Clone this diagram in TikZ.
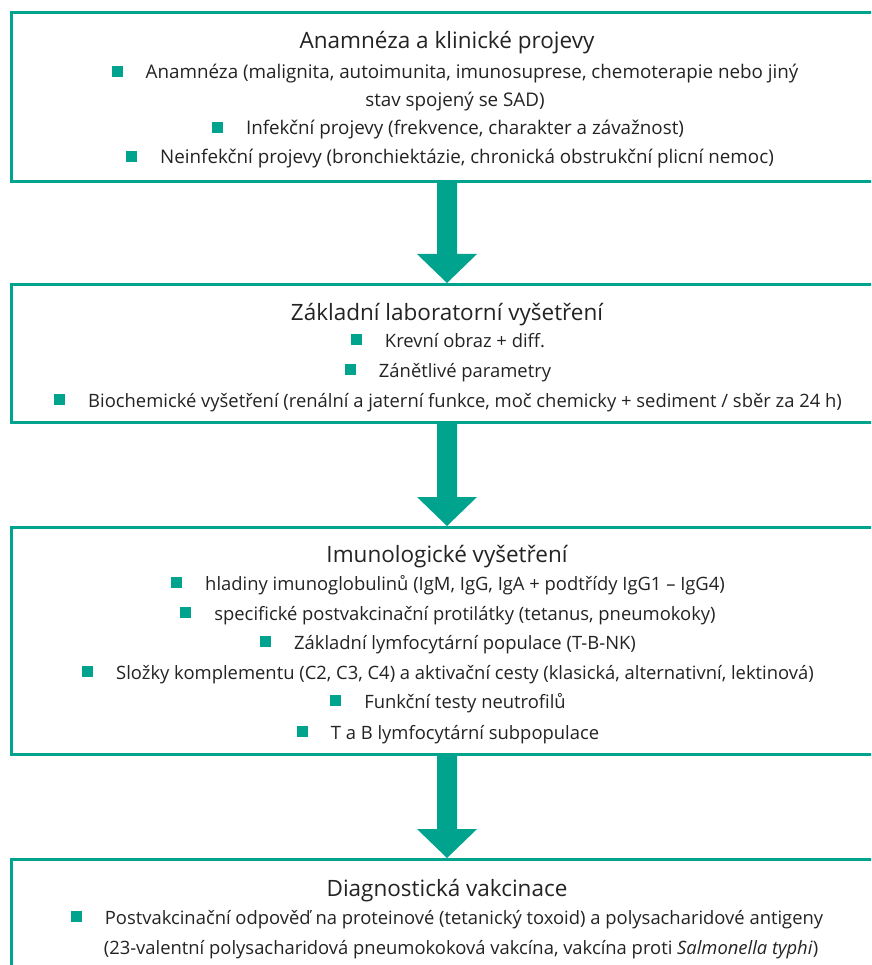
\documentclass[tikz,border=0pt]{standalone}
\usepackage{fontspec}
\setmainfont{Open Sans}
\usetikzlibrary{calc}
\definecolor{tealc}{RGB}{0,163,142}
\definecolor{txt}{RGB}{35,35,35}
\newcommand\bul{\textcolor{tealc}{\rule[2pt]{11pt}{11pt}}\hspace{23pt}}
\tikzset{
  box/.style={draw=tealc, line width=2.6pt, rectangle, anchor=north west, minimum width=890pt, inner sep=0pt},
  ttl/.style={anchor=base, inner sep=0pt, font=\fontsize{22.5pt}{26pt}\selectfont, text=txt},
  itm/.style={anchor=base, inner sep=0pt, font=\fontsize{18.4pt}{22pt}\selectfont, text=txt},
  itmA/.style={itm, font=\fontsize{18.8pt}{22pt}\selectfont},
  bigarrow/.style={fill=tealc},
}
\newcommand\flowarrow[2]{%
  \fill[bigarrow] let \p1=(#1.south -| ax), \p2=(#2.north -| ax) in
    (\x1-10pt,\y1) -- (\x1+10pt,\y1) -- (\x1+10pt,\y2+29pt) -- (\x1+30pt,\y2+29pt)
    -- (\x1,\y2) -- (\x1-30pt,\y2+29pt) -- (\x1-10pt,\y2+29pt) -- cycle;}
\begin{document}
\begin{tikzpicture}[x=1pt,y=-1pt]
\useasboundingbox (0,0) rectangle (871,965);
\clip (0,0) rectangle (871,965);
\fill[white] (0,0) rectangle (871,965);
\coordinate (ax) at (447,0);
% boxes
\node[box, minimum height=169pt] (b1) at (10,11) {};
\node[box, minimum height=138pt] (b2) at (10,283) {};
\node[box, minimum height=227pt] (b3) at (10,526) {};
\node[box, minimum height=160pt] (b4) at (10,858) {};
% arrows
\flowarrow{b1}{b2}
\flowarrow{b2}{b3}
\flowarrow{b3}{b4}
% box 1
\node[ttl] (t1) at (447,49) {Anamnéza a klinické projevy};
\node[itmA] (t1a) at (455,79) {\bul Anamnéza (malignita, autoimunita, imunosuprese, chemoterapie nebo jiný};
\node[itmA] (t1b) at (455,107) {stav spojený se SAD)};
\node[itmA] (t1c) at (448,135) {\bul Infekční projevy (frekvence, charakter a závažnost)};
\node[itmA] (t1d) at (450,164) {\bul Neinfekční projevy (bronchiektázie, chronická obstrukční plicní nemoc)};
% box 2
\node[ttl] (t2) at (447,320) {Základní laboratorní vyšetření};
\node[itm] (t2a) at (448,347) {\bul Krevní obraz + diff.};
\node[itm] (t2b) at (448,377) {\bul Zánětlivé parametry};
\node[itm] (t2c) at (448,407) {\bul Biochemické vyšetření (renální a jaterní funkce, moč chemicky + sediment / sběr za 24 h)};
% box 3
\node[ttl] (t3) at (447,562) {Imunologické vyšetření};
\node[itm] (t3a) at (448,590) {\bul hladiny imunoglobulinů (IgM, IgG, IgA + podtřídy IgG1 – IgG4)};
\node[itm] (t3b) at (448,620) {\bul specifické postvakcinační protilátky (tetanus, pneumokoky)};
\node[itm] (t3c) at (448,649) {\bul Základní lymfocytární populace (T-B-NK)};
\node[itm] (t3d) at (448,679) {\bul Složky komplementu (C2, C3, C4) a aktivační cesty (klasická, alternativní, lektinová)};
\node[itm] (t3e) at (448,708) {\bul Funkční testy neutrofilů};
\node[itm] (t3f) at (448,739) {\bul T a B lymfocytární subpopulace};
% box 4
\node[ttl] (t4) at (447,896) {Diagnostická vakcinace};
\node[itm] (t4a) at (447,924) {\bul Postvakcinační odpověď na proteinové (tetanický toxoid) a polysacharidové antigeny};
\node[itm] (t4b) at (461,954) {(23-valentní polysacharidová pneumokoková vakcína, vakcína proti \textit{Salmonella typhi})};
\end{tikzpicture}
\end{document}
